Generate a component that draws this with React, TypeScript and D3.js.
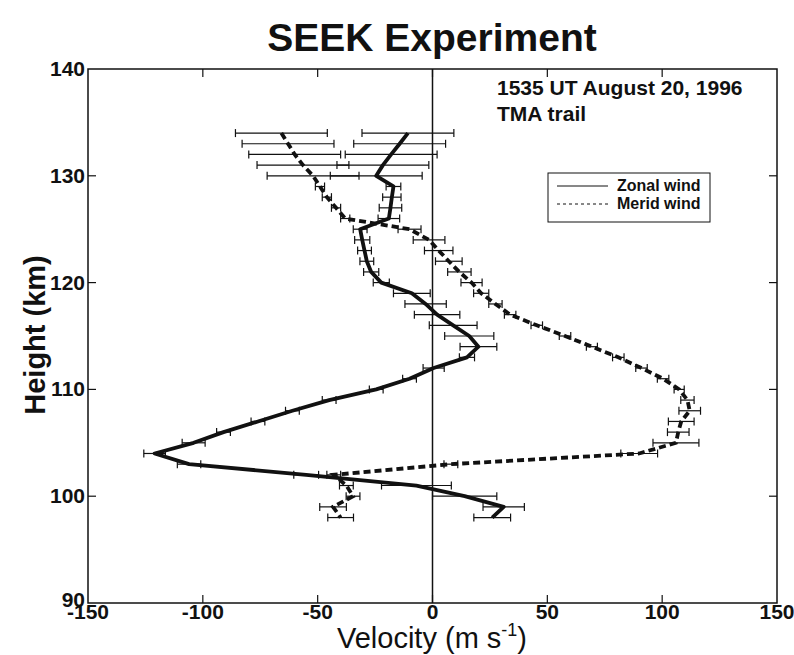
import React from "react";
import * as d3 from "d3";

// heights in km, one sample per km
const heights = [134, 133, 132, 131, 130, 129, 128, 127, 126, 125, 124, 123, 122, 121, 120, 119, 118, 117,
  116, 115, 114, 113, 112, 111, 110, 109, 108, 107, 106, 105, 104, 103, 102, 101, 100, 99, 98];

const zonal = [-10.7, -14.3, -18, -21.6, -24.5, -17, -17.7, -18.3, -19, -31.5, -30.6, -29.6, -28.6, -26.7, -22.3, -9, -3, 2,
  9, 16, 20, 15, 0.5, -10, -24.5, -45, -61, -76, -91, -104, -121, -106, -55, -7, 14, 31, 26];
const zonalErr = [20, 20, 20, 20, 20, 3.2, 4, 4.9, 4.7, 3, 3.3, 3, 3, 3.3, 3.5, 8, 9, 9.9,
  10.4, 10.7, 8, 3.3, 4.6, 3, 3, 3, 3, 3, 3, 5, 4.7, 5.1, 5.4, 15.2, 14, 9, 8];

const meridHeights = [134, 133, 132, 131, 130, 129, 128, 127, 126, 125, 124, 123, 122, 121, 120, 119, 118, 117,
  116, 115, 114, 113, 112, 111, 110, 109, 108, 107, 106, 105, 104, 103, 102, 101, 100, 99, 98];
const merid = [-65.8, -62.9, -60, -56.4, -52, -49, -46, -42, -38, -10, -1.5, 2.7, 7.1, 11.7, 17, 21.2, 27.4, 33.8,
  45.4, 57.7, 69.4, 80.9, 91, 100.4, 107.4, 111, 112, 108.3, 107, 106, 90, 8, -43, -37.5, -34.6, -43.3, -40];
const meridErr = [20, 20, 20, 20, 20, 2, 2, 2, 2, 5, 6.9, 6.2, 5.8, 5.1, 4.6, 3.3, 2.9, 2.5,
  2.5, 2.5, 2.4, 2.5, 2.5, 2.5, 2.2, 2.9, 4.7, 5.6, 4.7, 10, 8, 3, 3, 3, 3, 5.8, 5.6];

const xTicks = [-150, -100, -50, 0, 50, 100, 150];
const yTicks = [90, 100, 110, 120, 130, 140];

const W = 794, H = 655;
const left = 88, right = 777, top = 69, bottom = 603;
const font = "'Liberation Sans', Arial, Helvetica, sans-serif";

function ErrorBars({ hs, vs, es, x, y }: any) {
  return (
    <g stroke="#111" strokeWidth={1.2}>
      {hs.map((h: number, i: number) => {
        const yy = y(h);
        const x0 = x(vs[i] - es[i]);
        const x1 = x(vs[i] + es[i]);
        return (
          <g key={i}>
            <line x1={x0} x2={x1} y1={yy} y2={yy} />
            <line x1={x0} x2={x0} y1={yy - 4} y2={yy + 4} />
            <line x1={x1} x2={x1} y1={yy - 4} y2={yy + 4} />
          </g>
        );
      })}
    </g>
  );
}

export default function App() {
  const x = d3.scaleLinear().domain([-150, 150]).range([left, right]);
  const y = d3.scaleLinear().domain([90, 140]).range([bottom, top]);

  const line = d3.line<[number, number]>()
    .x(d => x(d[0]))
    .y(d => y(d[1]));

  const zonalPath = line(zonal.map((v, i) => [v, heights[i]]));
  const meridPath = line(merid.map((v, i) => [v, meridHeights[i]]));

  return (
    <svg width={W} height={H} style={{ position: "absolute", left: 0, top: 0, background: "#fff" }}
      fontFamily={font}>
      <text x={432} y={51} textAnchor="middle" fontSize={39} fontWeight="bold" fill="#111">SEEK Experiment</text>

      {/* frame */}
      <rect x={left} y={top} width={right - left} height={bottom - top} fill="none" stroke="#111" strokeWidth={1.5} />
      <line x1={x(0)} x2={x(0)} y1={top} y2={bottom} stroke="#111" strokeWidth={1.5} />

      {xTicks.slice(1, -1).map(t => (
        <g key={t} stroke="#111" strokeWidth={1.2}>
          <line x1={x(t)} x2={x(t)} y1={bottom} y2={bottom - 8} />
          <line x1={x(t)} x2={x(t)} y1={top} y2={top + 8} />
        </g>
      ))}
      {yTicks.slice(1, -1).map(t => (
        <g key={t} stroke="#111" strokeWidth={1.2}>
          <line x1={left} x2={left + 8} y1={y(t)} y2={y(t)} />
          <line x1={right} x2={right - 8} y1={y(t)} y2={y(t)} />
        </g>
      ))}

      {xTicks.map(t => (
        <text key={t} x={x(t)} y={619} textAnchor="middle" fontSize={21} fontWeight="bold" fill="#111">{t}</text>
      ))}
      {yTicks.map(t => (
        <text key={t} x={85} y={t === 90 ? y(t) + 4 : y(t) + 7} textAnchor="end" fontSize={21} fontWeight="bold" fill="#111">{t}</text>
      ))}

      <text x={432} y={648} textAnchor="middle" fontSize={29} fill="#111">
        Velocity (m s<tspan fontSize={18} dy={-12}>-1</tspan><tspan dy={12}>)</tspan>
      </text>
      <text transform={`translate(45, 335) rotate(-90)`} textAnchor="middle" fontSize={29} fontWeight="bold" fill="#111">
        Height (km)
      </text>

      <text x={497} y={95} fontSize={21} fontWeight="bold" fill="#111">1535 UT August 20, 1996</text>
      <text x={497} y={121} fontSize={21} fontWeight="bold" fill="#111">TMA trail</text>

      {/* legend */}
      <rect x={548} y={173} width={162} height={49} fill="#fff" stroke="#111" strokeWidth={1} />
      <line x1={557} x2={608} y1={186} y2={186} stroke="#111" strokeWidth={1} />
      <line x1={557} x2={608} y1={204} y2={204} stroke="#111" strokeWidth={1} strokeDasharray="3,3" />
      <text x={617} y={191} fontSize={16} fontWeight="bold" fill="#111">Zonal wind</text>
      <text x={617} y={209} fontSize={16} fontWeight="bold" fill="#111">Merid wind</text>

      <ErrorBars hs={heights} vs={zonal} es={zonalErr} x={x} y={y} />
      <ErrorBars hs={meridHeights} vs={merid} es={meridErr} x={x} y={y} />

      <path d={zonalPath ?? ""} fill="none" stroke="#111" strokeWidth={3.8} strokeLinejoin="round" />
      <path d={meridPath ?? ""} fill="none" stroke="#111" strokeWidth={3.8} strokeDasharray="7,4" />
    </svg>
  );
}
